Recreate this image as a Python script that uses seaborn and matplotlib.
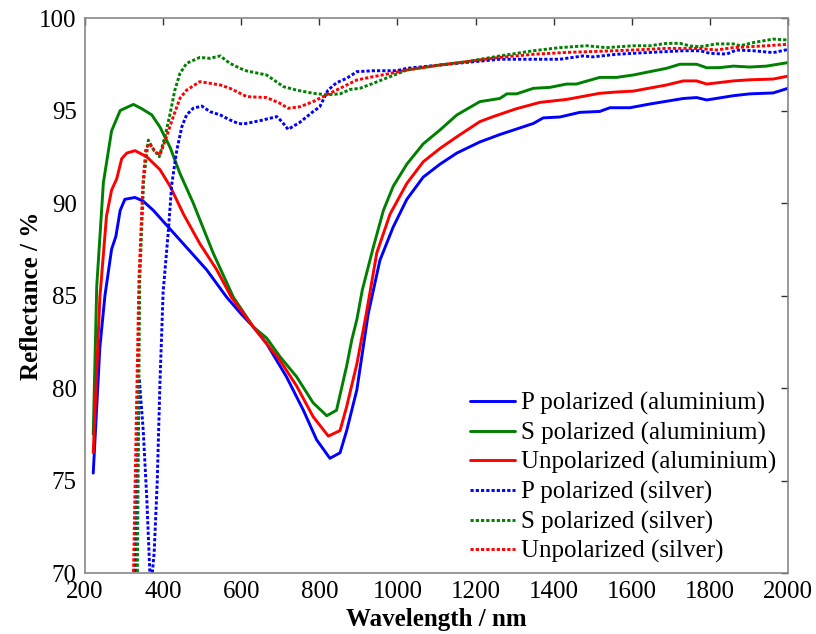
import matplotlib
matplotlib.use("Agg")
import matplotlib.pyplot as plt
import seaborn as sns

# --- data (wavelength in nm, reflectance in %) ---

# P polarized (aluminium)
p_al_wl = [221, 238, 251, 268, 279, 290, 302, 328, 349, 375, 409, 460, 511, 563, 600, 631,
           665, 716, 759, 793, 827, 853, 870, 896, 925, 955, 989, 1024, 1066, 1109, 1152,
           1211, 1262, 1305, 1348, 1373, 1416, 1467, 1518, 1544, 1595, 1646, 1689, 1732,
           1766, 1792, 1860, 1902, 1962, 2000]
p_al_r = [75.4, 82.2, 85.0, 87.5, 88.2, 89.6, 90.2, 90.3, 90.1, 89.6, 88.8, 87.6, 86.4, 84.9, 84.0, 83.3,
          82.4, 80.6, 78.8, 77.2, 76.2, 76.5, 77.7, 79.9, 84.0, 86.9, 88.7, 90.2, 91.4, 92.1, 92.7,
          93.3, 93.7, 94.0, 94.3, 94.6, 94.65, 94.9, 94.95, 95.15, 95.15, 95.35, 95.5, 95.65,
          95.7, 95.57, 95.8, 95.9, 95.95, 96.2]

# S polarized (aluminium)
s_al_wl = [221, 230, 247, 268, 290, 300, 324, 345, 371, 392, 418, 443, 477, 528, 580, 631,
           665, 699, 742, 784, 819, 844, 870, 883, 896, 910, 938, 964, 989, 1024, 1066, 1109,
           1152, 1211, 1262, 1280, 1305, 1348, 1390, 1433, 1458, 1518, 1561, 1604, 1646,
           1689, 1723, 1766, 1792, 1826, 1860, 1902, 1945, 2000]
s_al_r = [77.5, 85.5, 91.1, 93.9, 95.0, 95.1, 95.33, 95.1, 94.76, 94.1, 93.0, 91.6, 90.0, 87.3, 84.9, 83.3,
          82.7, 81.7, 80.6, 79.2, 78.5, 78.8, 81.2, 82.6, 83.7, 85.3, 87.6, 89.6, 90.9, 92.1, 93.2, 93.95,
          94.76, 95.48, 95.65, 95.9, 95.9, 96.2, 96.25, 96.43, 96.43, 96.79, 96.79, 96.92, 97.1,
          97.28, 97.5, 97.5, 97.31, 97.32, 97.4, 97.35, 97.4, 97.59]

# Unpolarized (aluminium)
u_al_wl = [221, 238, 255, 268, 281, 294, 307, 328, 358, 392, 418, 452, 494, 537, 575, 631,
           699, 742, 784, 823, 853, 870, 896, 920, 947, 981, 1024, 1066, 1109, 1152, 1211,
           1245, 1305, 1365, 1433, 1518, 1561, 1604, 1689, 1732, 1766, 1792, 1860, 1902,
           1962, 2000]
u_al_r = [76.5, 84.9, 89.3, 90.7, 91.3, 92.4, 92.7, 92.83, 92.5, 91.8, 90.9, 89.4, 87.8, 86.4, 84.9, 83.3,
          81.5, 80.1, 78.45, 77.4, 77.7, 79.0, 81.3, 84.0, 87.3, 89.4, 91.06, 92.23, 92.95, 93.58, 94.4,
          94.67, 95.1, 95.44, 95.6, 95.93, 96.0, 96.05, 96.38, 96.6, 96.6, 96.43, 96.6, 96.66,
          96.7, 96.86]

# P polarized (silver)
p_ag_wl = [322, 328, 339, 349, 358, 368, 377, 385, 392, 400, 413, 422, 435, 448, 460, 477,
           499, 520, 546, 571, 592, 605, 648, 691, 704, 720, 750, 784, 801, 822, 844, 870,
           896, 938, 998, 1024, 1109, 1177, 1262, 1348, 1416, 1475, 1501, 1561, 1646, 1732,
           1775, 1800, 1843, 1868, 1911, 1962, 2000]
p_ag_r = [60.0, 70.0, 80.5, 77.7, 74.1, 69.0, 71.1, 75.0, 80.4, 85.2, 88.4, 91.0, 92.86, 94.13, 94.76, 95.12,
          95.24, 94.94, 94.76, 94.49, 94.3, 94.27, 94.45, 94.67, 94.4, 93.98, 94.36, 94.94, 95.2, 96.1, 96.5, 96.74,
          97.1, 97.15, 97.15, 97.28, 97.46, 97.6, 97.77, 97.77, 97.77, 97.95, 97.9, 98.04, 98.14, 98.23,
          98.23, 98.09, 98.05, 98.27, 98.23, 98.13, 98.3]

# S polarized (silver)
s_ag_wl = [328, 334, 340, 350, 362, 372, 390, 405, 418, 430, 443, 460, 494, 520, 546, 571,
           597, 614, 665, 708, 742, 784, 819, 853, 879, 904, 938, 981, 1024, 1109, 1177,
           1262, 1305, 1348, 1416, 1484, 1535, 1604, 1646, 1689, 1723, 1749, 1775, 1817,
           1860, 1877, 1911, 1962, 2000]
s_ag_r = [60.0, 70.0, 85.8, 91.2, 93.4, 93.0, 92.5, 93.6, 94.85, 96.1, 97.0, 97.55, 97.87, 97.82, 97.95, 97.55,
          97.28, 97.14, 96.92, 96.29, 96.1, 95.93, 95.85, 95.9, 96.14, 96.2, 96.47, 96.83, 97.19, 97.46, 97.64,
          97.95, 98.09, 98.23, 98.4, 98.5, 98.4, 98.5, 98.5, 98.63, 98.63, 98.49, 98.45, 98.6,
          98.6, 98.5, 98.67, 98.86, 98.81]

# Unpolarized (silver)
u_ag_wl = [318, 324, 338, 348, 356, 366, 378, 392, 409, 426, 443, 460, 494, 520, 546, 571,
           597, 614, 665, 699, 720, 750, 784, 819, 853, 896, 938, 981, 1024, 1109, 1177,
           1262, 1348, 1433, 1518, 1604, 1689, 1775, 1817, 1860, 1945, 2000]
u_ag_r = [60.0, 70.0, 85.8, 91.0, 93.0, 93.2, 92.8, 92.6, 93.6, 94.67, 95.66, 96.1, 96.56, 96.47, 96.38, 96.2,
          95.93, 95.75, 95.7, 95.39, 95.12, 95.2, 95.48, 95.85, 96.2, 96.65, 96.83, 97.0, 97.19, 97.46, 97.64,
          97.87, 98.04, 98.14, 98.2, 98.27, 98.36, 98.35, 98.27, 98.4, 98.5, 98.58]

labels = ["P polarized (aluminium)", "S polarized (aluminium)", "Unpolarized (aluminium)",
          "P polarized (silver)", "S polarized (silver)", "Unpolarized (silver)"]
x_ticks = [200, 400, 600, 800, 1000, 1200, 1400, 1600, 1800, 2000]
y_ticks = [70, 75, 80, 85, 90, 95, 100]

sns.set_style("white")
plt.rcParams["font.family"] = ["Liberation Serif", "DejaVu Serif"]
plt.rcParams["text.color"] = "black"
plt.rcParams["axes.labelcolor"] = "black"

fig = plt.figure(figsize=(8.16, 6.34), dpi=100)
ax = fig.add_axes([0.1042, 0.0962, 0.8615, 0.8754])

series = [
    (p_al_wl, p_al_r, "#0000ff", "-"),
    (s_al_wl, s_al_r, "#008000", "-"),
    (u_al_wl, u_al_r, "#ff0000", "-"),
    (p_ag_wl, p_ag_r, "#0000ff", (0, (1.1, 0.7))),
    (s_ag_wl, s_ag_r, "#008000", (0, (1.1, 0.7))),
    (u_ag_wl, u_ag_r, "#ff0000", (0, (1.1, 0.7))),
]
for (wl, r, col, ls), lab in zip(series, labels):
    sns.lineplot(x=wl, y=r, ax=ax, color=col, linestyle=ls, linewidth=2.1,
                 label=lab, sort=False)

ax.set_xlim(200, 2000)
ax.set_ylim(70, 100)
ax.set_xticks(x_ticks)
ax.set_yticks(y_ticks)
ax.tick_params(direction="in", length=5, width=1, color="#333333", labelcolor="black",
               top=True, right=True, labelsize=18, pad=6)
for sp in ax.spines.values():
    sp.set_color("#888888")
    sp.set_linewidth(1.2)

ax.set_xlabel("Wavelength / nm", fontsize=18, fontweight="bold", labelpad=3)
ax.set_ylabel("Reflectance / %", fontsize=18, fontweight="bold", labelpad=-3)

ax.legend(loc="lower right", frameon=False, fontsize=18, handlelength=1.8,
          handletextpad=0.25, labelspacing=0.26, borderaxespad=0.3,
          bbox_to_anchor=(1.008, -0.014))

fig.savefig("out.png", dpi=100)
